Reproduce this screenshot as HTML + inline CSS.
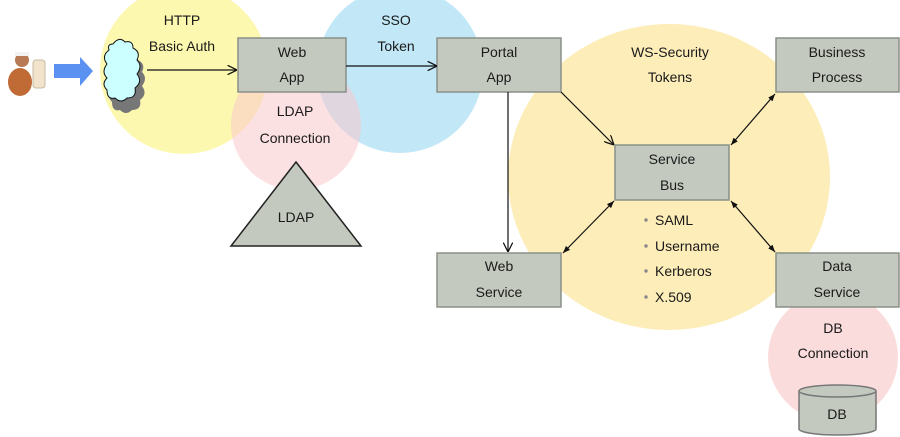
<!DOCTYPE html>
<html><head><meta charset="utf-8"><style>
html,body{margin:0;padding:0;background:#fff;width:900px;height:437px;overflow:hidden}
text{font-family:"Liberation Sans",Arial,sans-serif;font-size:14px;fill:#1a1a1a}
</style></head><body>
<svg width="900" height="437" viewBox="0 0 900 437" xmlns="http://www.w3.org/2000/svg">
<defs>
<marker id="o" viewBox="0 0 10 10" refX="10" refY="5" markerWidth="8" markerHeight="8" orient="auto-start-reverse"><path d="M0,0 L10,5 L0,10" fill="none" stroke="#111" stroke-width="1.3"/></marker>
<marker id="f" viewBox="0 0 10 10" refX="10" refY="5" markerWidth="6" markerHeight="6" orient="auto-start-reverse"><path d="M0,1 L10,5 L0,9 z" fill="#111"/></marker>
</defs>
<circle cx="184" cy="70" r="84" fill="#fdf7a6" opacity="0.9"/>
<circle cx="400" cy="70" r="83" fill="#bfe6f7" opacity="0.95"/>
<circle cx="296" cy="125" r="65" fill="#f9c9cc" opacity="0.55"/>
<ellipse cx="669" cy="177" rx="161" ry="153" fill="#fdedb9"/>
<circle cx="833" cy="357" r="65" fill="#fbdcdd"/>
<!-- person -->
<ellipse cx="20" cy="82" rx="12" ry="14" fill="#c06a35"/>
<circle cx="22" cy="60" r="7" fill="#b87a55"/>
<rect x="15" y="52" width="14" height="4" fill="#f2f2f2"/>
<rect x="33" y="60" width="12" height="28" rx="3" fill="#f1e3cc" stroke="#c9b8a0"/>
<path d="M54,64 H80 V57 L93,71 L80,86 V78 H54 Z" fill="#5b92f2"/>
<!-- cloud -->
<path d="M113,50 q6,-8 12,-2 q8,-2 8,6 q8,4 4,12 q6,6 0,14 q6,8 -2,14 q2,10 -8,10 q-6,6 -12,0 q-8,2 -8,-8 q-6,-6 0,-12 q-6,-6 0,-14 q-6,-8 2,-14 q-2,-6 4,-6z" fill="#777" transform="translate(5,6)"/>
<path d="M113,44 q6,-8 12,-2 q8,-2 8,6 q8,4 4,12 q6,6 0,14 q6,8 -2,14 q2,10 -8,10 q-6,6 -12,0 q-8,2 -8,-8 q-6,-6 0,-12 q-6,-6 0,-14 q-6,-8 2,-14 q-2,-6 4,-6z" fill="#ccffff" stroke="#111" stroke-width="1"/>
<!-- boxes -->
<g fill="#c4c9bf" stroke="#8a9088" stroke-width="1.5">
<rect x="238" y="38" width="108" height="54"/>
<rect x="437" y="38" width="124" height="54"/>
<rect x="776" y="38" width="123" height="54"/>
<rect x="615" y="145" width="114" height="55"/>
<rect x="437" y="253" width="124" height="54"/>
<rect x="776" y="253" width="123" height="54"/>
<path d="M296,162 L361,246 L231,246 Z" stroke="#222"/>
<path d="M799,391 V429 A38.5,6 0 0 0 876,429 V391" stroke="#777"/>
<ellipse cx="837.5" cy="391" rx="38.5" ry="6" stroke="#777"/>
</g>
<!-- connectors -->
<g stroke="#111" stroke-width="1.2" fill="none">
<line x1="147" y1="70" x2="237" y2="70" marker-end="url(#o)"/>
<line x1="346" y1="66" x2="437" y2="66" marker-end="url(#o)"/>
<line x1="508" y1="92" x2="508" y2="252" marker-end="url(#o)"/>
<line x1="561" y1="92" x2="614" y2="145" marker-end="url(#o)"/>
<line x1="731" y1="145" x2="775" y2="94" marker-start="url(#f)" marker-end="url(#f)"/>
<line x1="563" y1="253" x2="614" y2="201" marker-start="url(#f)" marker-end="url(#f)"/>
<line x1="731" y1="201" x2="775" y2="252" marker-start="url(#f)" marker-end="url(#f)"/>
</g>
<g text-anchor="middle">
<text x="182" y="25">HTTP</text><text x="182" y="51">Basic Auth</text>
<text x="292" y="57">Web</text><text x="292" y="82">App</text>
<text x="295" y="116">LDAP</text><text x="295" y="143">Connection</text>
<text x="296" y="222">LDAP</text>
<text x="396" y="25">SSO</text><text x="396" y="51">Token</text>
<text x="499" y="57">Portal</text><text x="499" y="82">App</text>
<text x="670" y="57">WS-Security</text><text x="670" y="82">Tokens</text>
<text x="837" y="57">Business</text><text x="837" y="82">Process</text>
<text x="672" y="164">Service</text><text x="672" y="190">Bus</text>
<text x="499" y="271">Web</text><text x="499" y="297">Service</text>
<text x="837" y="271">Data</text><text x="837" y="297">Service</text>
<text x="833" y="333">DB</text><text x="833" y="358">Connection</text>
<text x="837" y="419">DB</text>
</g>
<g fill="#888"><circle cx="646" cy="220" r="1.7"/><circle cx="646" cy="246" r="1.7"/><circle cx="646" cy="271" r="1.7"/><circle cx="646" cy="297" r="1.7"/></g>
<text x="655" y="225">SAML</text><text x="655" y="251">Username</text><text x="655" y="276">Kerberos</text><text x="655" y="302">X.509</text>
</svg>
</body></html>
